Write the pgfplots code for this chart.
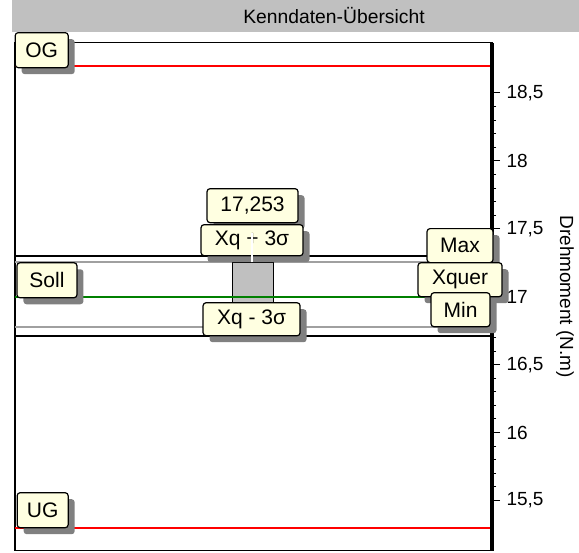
\documentclass[border=0pt]{standalone}
\usepackage{fontspec}
\setmainfont{Liberation Sans}
\usepackage{pgfplots}
\pgfplotsset{compat=1.18}
\definecolor{titlegray}{RGB}{192,192,192}
\definecolor{lblfill}{RGB}{255,255,225}
\definecolor{shadowgray}{RGB}{128,128,128}
\definecolor{limgreen}{RGB}{0,128,0}
\definecolor{mmgray}{RGB}{160,160,160}
\definecolor{boxgray}{RGB}{192,192,192}
\newcommand\fs[1]{\fontsize{#1}{#1}\selectfont}
\tikzset{lbl/.style={draw=black, line width=1.2pt, fill=lblfill, rounded corners=3pt,
  inner sep=0pt, font=\fs{21},
  preaction={draw=none, fill=shadowgray, transform canvas={xshift=6.5pt, yshift=-6.5pt}}}}
\begin{document}
\begin{tikzpicture}[x=1pt,y=1pt]
\useasboundingbox (0,0) rectangle (579,553);
\fill[titlegray] (12,521) rectangle (579,553);
\node[font=\fs{19.3}] at (334,537) {Kenndaten-Übersicht};
\begin{axis}[
  at={(15pt,2.3pt)}, anchor=south west,
  scale only axis, width=477pt, height=508pt,
  xmin=0, xmax=1, ymin=15.13, ymax=18.87,
  xtick=\empty,
  ytick={15.5,16,16.5,17,17.5,18,18.5},
  minor y tick num=4,
  ytick pos=right, yticklabel pos=right,
  tick align=outside,
  major tick length=8pt, minor tick length=4pt,
  axis line style={line width=1.5pt},
  every tick/.style={black, line width=1pt},
  yticklabel style={font=\fs{19}, xshift=3pt, /pgf/number format/.cd, use comma, fixed, assume math mode=true},
  ylabel={Drehmoment (N.m)},
  y label style={at={(axis description cs:1.153,0.5)}, rotate=180, anchor=center, font=\fs{19}},
  clip=false
]
% limits
\addplot[red, line width=2pt] coordinates {(0,18.7) (1,18.7)};
\addplot[red, line width=2pt] coordinates {(0,15.3) (1,15.3)};
% tolerance / max-min
\addplot[black, line width=2pt] coordinates {(0,17.3) (1,17.3)};
\addplot[black, line width=2pt] coordinates {(0,16.71) (1,16.71)};
\addplot[mmgray, line width=2pt] coordinates {(0,17.253) (1,17.253)};
\addplot[mmgray, line width=2pt] coordinates {(0,16.778) (1,16.778)};
% box Xq +- 3 sigma
\addplot[fill=boxgray, draw=black, line width=1pt] coordinates {(0.455,16.778) (0.541,16.778) (0.541,17.253) (0.455,17.253)} -- cycle;
% Soll
\addplot[limgreen, line width=2pt] coordinates {(0,17) (1,17)};

\draw[line width=4.5pt] (rel axis cs:1,0) -- (rel axis cs:1,1);

\node[lbl, minimum width=53pt, minimum height=35pt] at (axis cs:0.056,18.815) {OG};
\node[lbl, minimum width=51pt, minimum height=35pt] at (axis cs:0.058,15.428) {UG};
\node[lbl, minimum width=60pt, minimum height=35pt] at (axis cs:0.067,17.121) {Soll};
\node[lbl, minimum width=91pt, minimum height=34pt] at (axis cs:0.498,17.670) {17,253};
\node[lbl, minimum width=102pt, minimum height=31pt] at (axis cs:0.497,17.416) {Xq + 3σ};
\node[lbl, minimum width=97pt, minimum height=33pt] at (axis cs:0.496,16.834) {Xq - 3σ};
\node[lbl, minimum width=66pt, minimum height=34pt] at (axis cs:0.933,17.376) {Max};
\node[lbl, minimum width=84pt, minimum height=34pt] at (axis cs:0.933,17.125) {Xquer};
\node[lbl, minimum width=59pt, minimum height=34pt] at (axis cs:0.934,16.904) {Min};

\addplot[white, line width=1.2pt] coordinates {(0.497,17.253) (0.497,17.47)};
\end{axis}
\end{tikzpicture}
\end{document}
